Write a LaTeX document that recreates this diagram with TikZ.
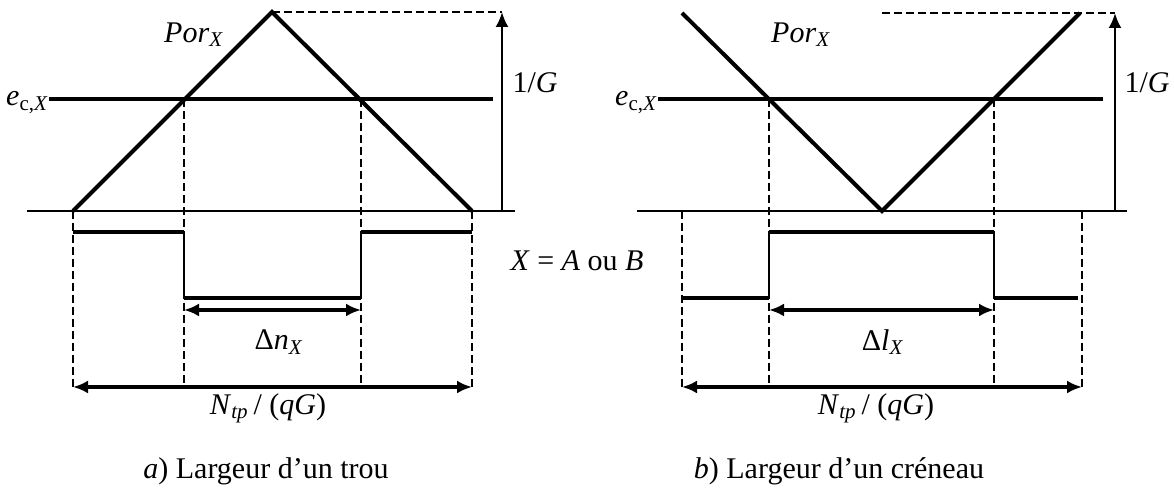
\documentclass[tikz,border=0pt]{standalone}
\usepackage{fontspec}
\setmainfont{Liberation Serif}
\usetikzlibrary{arrows.meta}

\tikzset{
    >={Latex[length=7.5pt,width=6.5pt]},
    trait/.style={line width=2pt},
    fin/.style={line width=1.2pt},
    pointille/.style={line width=1.2pt, dash pattern=on 4pt off 2pt},
    etiq/.style={inner sep=0pt, font=\fontsize{15}{18}\selectfont},
}

\begin{document}
\begin{tikzpicture}[x=0.5pt, y=-0.5pt]
    \useasboundingbox (0,0) rectangle (1174,490);

    % a) Largeur d'un trou
    \coordinate (a0) at (27,211);   % axe
    \coordinate (a1) at (515,211);
    \coordinate (aG) at (73,211);   % triangle
    \coordinate (aS) at (272,12);
    \coordinate (aD) at (472,211);
    \coordinate (aI) at (184,99);   % intersections avec le seuil
    \coordinate (aJ) at (361,99);
    \coordinate (aE) at (493,99);
    \coordinate (aH) at (502,12);   % fleche 1/G
    \coordinate (aB) at (502,211);
    \coordinate (aN) at (73,387);   % cote N
    \coordinate (aM) at (472,387);

    \draw[fin] (a0) -- (a1);
    \draw[trait] (aG) -- (aS) -- (aD);
    \node[etiq, anchor=base east] (ecA) at (49,106) {\textit{e}\textsubscript{c,\textit{X}}};
    \draw[trait] (ecA.east |- aI) -- (aE);
    \draw[pointille] (aS) -- (aH);
    \draw[fin, ->] (aB) -- (aH);
    \node[etiq] (invGA) at (535,83) {1/\textit{G}};
    \node[etiq] (porA) at (194,35) {\textit{Por}\textsubscript{\textit{X}}};

    % Pointilles verticaux
    \draw[pointille] (aG) -- (aN);
    \draw[pointille] (aI) -- (aI |- aN);
    \draw[pointille] (aJ) -- (aJ |- aN);
    \draw[pointille] (aD) -- (aM);

    % Signal (trou)
    \draw[trait] (73,232) -- (184,232);
    \draw[fin] (184,232) -- (184,298);
    \draw[trait] (184,298) -- (361,298);
    \draw[fin] (361,298) -- (361,232);
    \draw[trait] (361,232) -- (472,232);

    % Cotes
    \draw[trait, <->] (aI |- 0,310) -- (aJ |- 0,310);
    \node[etiq] (dnA) at (279,342) {Δ\textit{n}\textsubscript{\textit{X}}};
    \draw[trait, <->] (aN) -- (aM);
    \node[etiq] (ntpA) at (268,408) {\textit{N}\textsubscript{\textit{tp}}\,/ (\textit{qG})};
    \node[etiq] (capA) at (266,471) {\textit{a}) Largeur d’un trou};

    \node[etiq] (leg) at (577,261) {\textit{X} = \textit{A} ou \textit{B}};

    % b) Largeur d'un creneau
    \coordinate (b0) at (637,211);
    \coordinate (b1) at (1127,211);
    \coordinate (bG) at (682,13);   % V
    \coordinate (bS) at (882,211);
    \coordinate (bD) at (1080,13);
    \coordinate (bI) at (769,99);
    \coordinate (bJ) at (994,99);
    \coordinate (bE) at (1103,99);
    \coordinate (bT) at (882,13);
    \coordinate (bH) at (1115,13);
    \coordinate (bB) at (1115,211);
    \coordinate (bN) at (682,387);
    \coordinate (bM) at (1082,387);

    \draw[fin] (b0) -- (b1);
    \draw[trait] (bG) -- (bS) -- (bD);
    \node[etiq, anchor=base east] (ecB) at (658,106) {\textit{e}\textsubscript{c,\textit{X}}};
    \draw[trait] (ecB.east |- bI) -- (bE);
    \draw[pointille] (bT) -- (bH);
    \draw[fin, ->] (bB) -- (bH);
    \node[etiq] (invGB) at (1147,83) {1/\textit{G}};
    \node[etiq] (porB) at (801,35) {\textit{Por}\textsubscript{\textit{X}}};

    \draw[pointille] (bN |- b0) -- (bN);
    \draw[pointille] (bI) -- (bI |- bN);
    \draw[pointille] (bJ) -- (bJ |- bN);
    \draw[pointille] (bM |- b0) -- (bM);

    % Signal (creneau)
    \draw[trait] (682,298) -- (769,298);
    \draw[fin] (769,298) -- (769,232);
    \draw[trait] (769,232) -- (994,232);
    \draw[fin] (994,232) -- (994,298);
    \draw[trait] (994,298) -- (1078,298);

    \draw[trait, <->] (bI |- 0,310) -- (bJ |- 0,310);
    \node[etiq] (dlB) at (883,342) {Δ\textit{l}\textsubscript{\textit{X}}};
    \draw[trait, <->] (bN) -- (bM);
    \node[etiq] (ntpB) at (876,408) {\textit{N}\textsubscript{\textit{tp}}\,/ (\textit{qG})};
    \node[etiq] (capB) at (839,471) {\textit{b}) Largeur d’un créneau};
\end{tikzpicture}
\end{document}
